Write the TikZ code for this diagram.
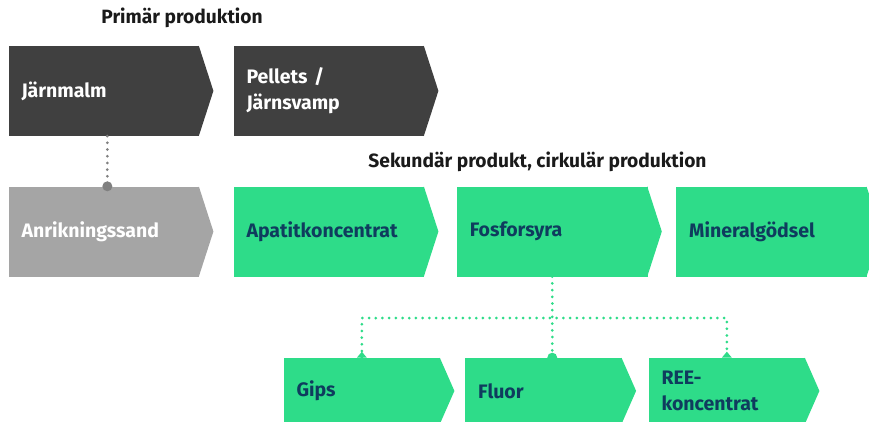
\documentclass[tikz,border=0pt]{standalone}
\usepackage{fontspec}
\setmainfont{Fira Sans}
\usetikzlibrary{calc}
\definecolor{darkbox}{HTML}{404040}
\definecolor{greybox}{HTML}{A5A5A5}
\definecolor{greyline}{HTML}{808080}
\definecolor{mint}{HTML}{2EDC89}
\definecolor{navy}{HTML}{0F3C5E}
\definecolor{ink}{HTML}{1A1A1A}
\newcommand{\boxfont}{\fontsize{19.5}{26}\selectfont\bfseries}
\newcommand{\headfont}{\fontsize{19.2}{22}\selectfont\bfseries}
\begin{document}
\begin{tikzpicture}[x=1pt,y=-1pt,
  stage/.style={rectangle, anchor=north west, inner sep=0pt,
    minimum width=190.7pt, minimum height=90pt, text width=164.7pt,
    align=left, font=\boxfont},
  substage/.style={stage, minimum width=156.7pt, minimum height=66pt,
    text width=130.7pt},
  primary/.style={fill=darkbox, text=white},
  residue/.style={fill=greybox, text=white},
  circular/.style={fill=mint, text=navy},
  heading/.style={font=\headfont, text=ink, inner sep=0pt},
  greydots/.style={draw=greyline, line width=3pt, line cap=round,
    dash pattern=on 0pt off 6.7pt},
  mintdots/.style={draw=mint, line width=3pt, line cap=round,
    dash pattern=on 0pt off 6.7pt}]
\useasboundingbox (0,0) rectangle (869,421);

% headings
\node[heading] (h1) at (182,18) {Primär produktion};
\node[heading] (h2) at (537.5,162) {Sekundär produkt, cirkulär produktion};

% primary production
\node[stage, primary] (jm) at (8.3,45.7) {Järnmalm};
\node[stage, primary] (pe) at (233.3,45.7) {Pellets /\\Järnsvamp};

% secondary row
\node[stage, residue]  (an) at (8.3,186.3) {Anrikningssand};
\node[stage, circular] (ap) at (233.3,186.3) {Apatitkoncentrat};
\node[stage, circular] (fo) at (456.7,186.3) {Fosforsyra};
\node[stage, circular] (mg) at (676,186.3) {Mineralgödsel};

% by-products of phosphoric acid
\node[substage, circular] (gi) at (283.3,357.7) {Gips};
\node[substage, circular] (fl) at (465,357.7) {Fluor};
\node[substage, circular] (re) at (648.3,357.7) {REE-\\koncentrat};

% arrow-shaped right ends
\foreach \n/\c in {jm/darkbox, pe/darkbox, an/greybox, ap/mint, fo/mint,
                   mg/mint, gi/mint, fl/mint, re/mint}
  \fill[\c] ([xshift=-0.6pt]\n.north east) -- ([xshift=14pt]\n.east)
            -- ([xshift=-0.6pt]\n.south east) -- cycle;

% iron ore to tailings
\draw[greydots] ([xshift=3.5pt]jm.south) -- ([xshift=3.5pt]an.north);
\fill[greyline] ([xshift=3.5pt]an.north) circle (5pt);

% phosphoric acid to by-products
\coordinate (bus) at (0,318);
\draw[mintdots] (fo.south) -- (fo.south |- fl.north);
\draw[mintdots] (gi.north) -- (gi.north |- bus) -- (re.north |- bus) -- (re.north);
\fill[mint] (fo.south |- fl.north) circle (5pt);
\foreach \n in {gi, re}
  \fill[mint] ([xshift=-5pt]\n.north) -- ([yshift=6pt]\n.north)
              -- ([xshift=5pt]\n.north) -- cycle;
\end{tikzpicture}
\end{document}
